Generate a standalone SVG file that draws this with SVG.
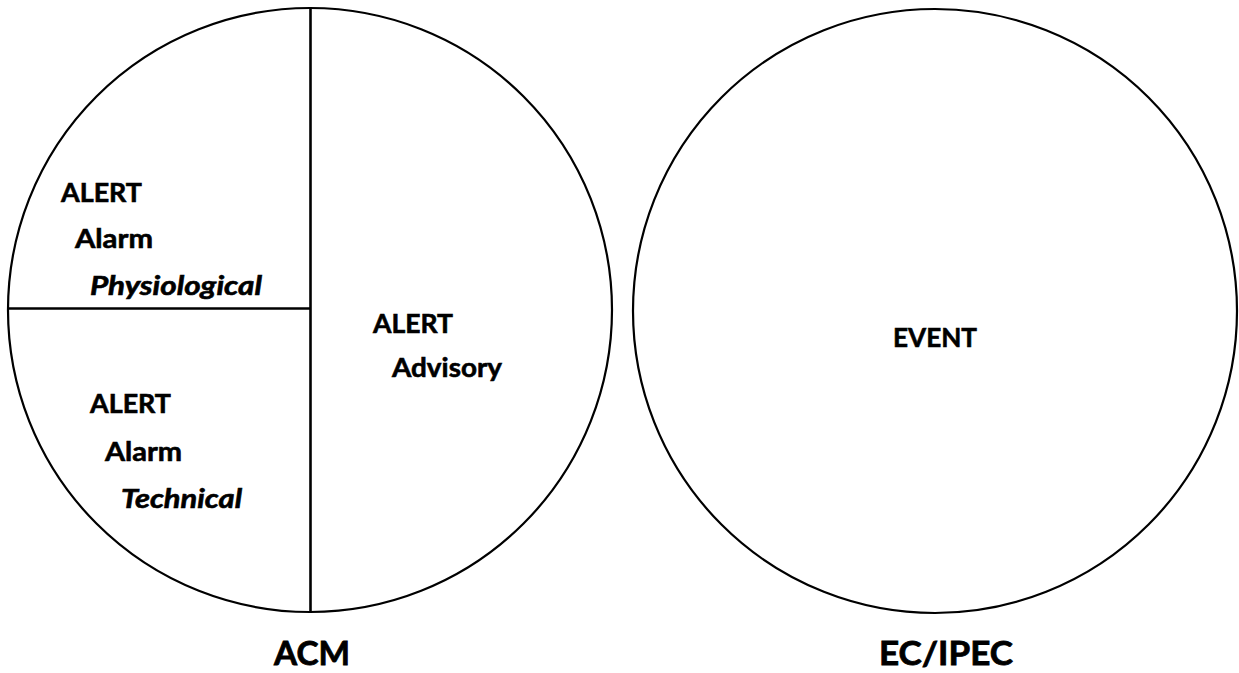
<svg xmlns="http://www.w3.org/2000/svg" width="1239" height="673" viewBox="0 0 1239 673">
<style>
.ring{fill:none;stroke:#000;stroke-width:2.2}
.div{stroke:#000;stroke-width:2.6;fill:none}
text{font-family:Lato,"Open Sans","Liberation Sans",sans-serif;font-weight:bold;fill:#000;stroke:#000;stroke-width:0.6}
.lb{font-size:27px}
.it{font-style:italic}
.ttl{font-size:33px;stroke-width:0.8}
</style>
<rect width="1239" height="673" fill="#fff"/>
<g id="acm">
<circle class="ring" cx="310" cy="310" r="302"/>
<g id="acm-dividers">
<line class="div" x1="310.5" y1="8" x2="310.5" y2="612"/>
<line class="div" x1="7" y1="308.5" x2="310" y2="308.5"/>
</g>
<g id="physiological">
<text class="lb" x="61" y="201.5" textLength="81" lengthAdjust="spacingAndGlyphs">ALERT</text>
<text class="lb" x="75" y="248" textLength="78" lengthAdjust="spacingAndGlyphs">Alarm</text>
<text class="lb it" x="90" y="295" textLength="172" lengthAdjust="spacingAndGlyphs">Physiological</text>
</g>
<g id="technical">
<text class="lb" x="90" y="413" textLength="81" lengthAdjust="spacingAndGlyphs">ALERT</text>
<text class="lb" x="105" y="461" textLength="77" lengthAdjust="spacingAndGlyphs">Alarm</text>
<text class="lb it" x="121" y="508" textLength="121" lengthAdjust="spacingAndGlyphs">Technical</text>
</g>
<g id="advisory">
<text class="lb" x="373" y="333" textLength="80" lengthAdjust="spacingAndGlyphs">ALERT</text>
<text class="lb" x="392" y="376.5" textLength="110" lengthAdjust="spacingAndGlyphs">Advisory</text>
</g>
<text id="acm-title" class="ttl" x="274" y="665" textLength="76" lengthAdjust="spacingAndGlyphs">ACM</text>
</g>
<g id="ecipec">
<circle class="ring" cx="935" cy="311" r="302"/>
<text class="lb" x="893" y="346.5" textLength="84" lengthAdjust="spacingAndGlyphs">EVENT</text>
<text id="ecipec-title" class="ttl" x="879" y="665" textLength="134" lengthAdjust="spacingAndGlyphs">EC/IPEC</text>
</g>
</svg>
